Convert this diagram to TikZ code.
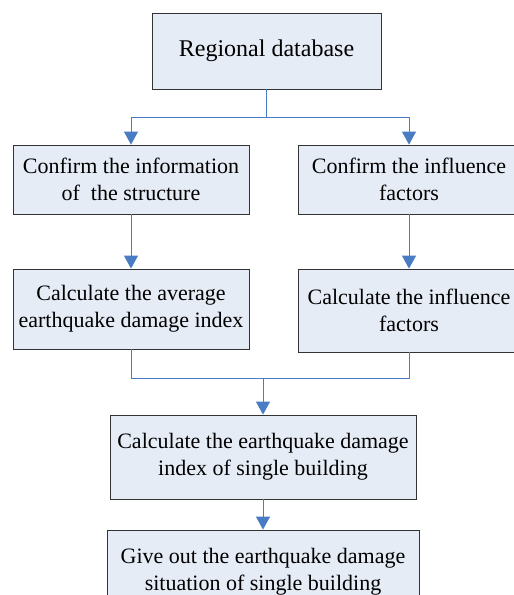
\documentclass[tikz,border=0pt]{standalone}
\usepackage{fontspec}
\setmainfont{Liberation Serif}
\usetikzlibrary{arrows.meta}
\usetikzlibrary{positioning}
\definecolor{boxfill}{HTML}{E6ECF6}
\definecolor{linkblue}{HTML}{4A7CC4}

\begin{document}
\begin{tikzpicture}[x=1pt,y=-1pt,
    box/.style={draw=black!80,fill=boxfill,line width=0.8pt,align=center,inner sep=0pt,font=\fontsize{22}{27}\selectfont},
    link/.style={draw=linkblue,line width=1pt},
    flow/.style={link,-{Triangle[width=14pt,length=13pt]}}]
    \useasboundingbox (0,0) rectangle (514,595);
    \node[box,minimum width=229pt,minimum height=76pt,font=\fontsize{24}{29}\selectfont] (db) at (266.5,51) {Regional database};
    \node[box,minimum width=236pt,minimum height=69pt] (info) at (131,179.5) {Confirm the information\\of~ the structure};
    \node[box,minimum width=222pt,minimum height=69pt] (factors) at (409,179.5) {Confirm the influence\\factors};
    \node[box,minimum width=236pt,minimum height=80pt] (avg) at (131,309) {Calculate the average\\earthquake damage index};
    \node[box,minimum width=222pt,minimum height=83pt] (calcf) at (409,310.5) {Calculate the influence\\factors};
    \node[box,minimum width=306pt,minimum height=84pt] (single) at (263,457) {Calculate the earthquake damage\\index of single building};
    \node[box,minimum width=312pt,minimum height=84pt] (result) at (263,572) {Give out the earthquake damage\\situation of single building};
    \coordinate (split) at (266.5,117);
    \coordinate (join) at (263,378);
    \draw[link] (db) -- (split);
    \draw[flow] (split) -| (info);
    \draw[flow] (split) -| (factors);
    \draw[flow] (info) -- (avg);
    \draw[flow] (factors) -- (calcf);
    \draw[link] (avg) |- (join);
    \draw[link] (calcf) |- (join);
    \draw[flow] (join) -- (single);
    \draw[flow] (single) -- (result);
\end{tikzpicture}
\end{document}
